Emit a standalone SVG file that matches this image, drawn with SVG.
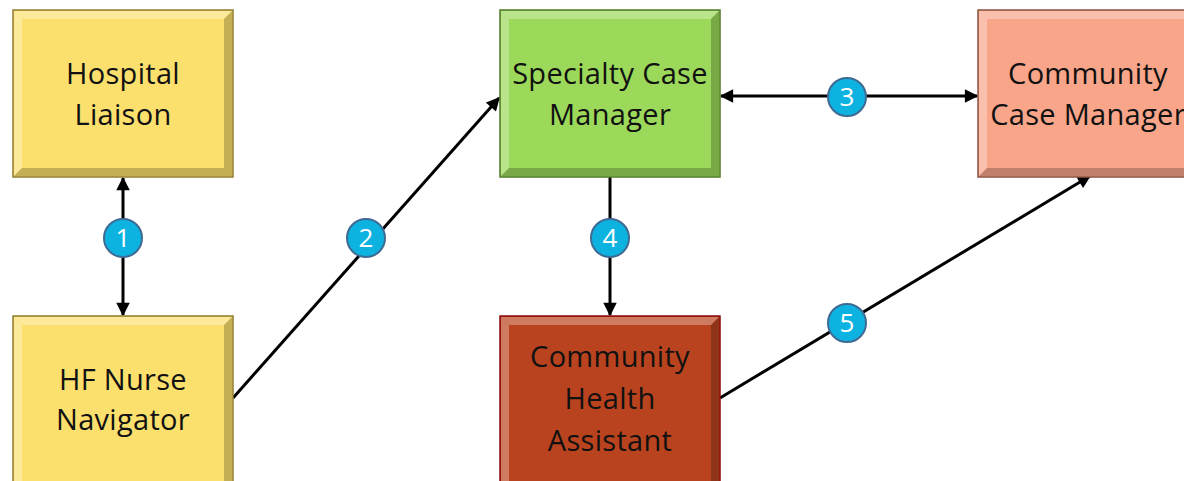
<svg xmlns="http://www.w3.org/2000/svg" width="1184" height="481" viewBox="0 0 1184 481">
<defs>
<style>
.lbl{font-family:"Open Sans","Liberation Sans",sans-serif;font-size:29px;fill:#111;text-anchor:middle;letter-spacing:0.3px}
.num{font-family:"Open Sans","Liberation Sans",sans-serif;font-size:26px;fill:#fff;text-anchor:middle}
.bl{fill:#fff;opacity:0.3}
.bd{fill:#000;opacity:0.22}
.badge{fill:#0DB3E0;stroke:#3E6A94;stroke-width:2}
.con{stroke:#000;stroke-width:3;fill:none}
</style>
<marker id="ah" viewBox="0 0 10 10" refX="9" refY="5" markerWidth="5" markerHeight="4.5" orient="auto-start-reverse" markerUnits="strokeWidth">
<path d="M0,0 L10,5 L0,10 z" fill="#000"/>
</marker>
</defs>
<rect width="1184" height="481" fill="#fff"/>

<g id="connectors">
<line class="con" x1="123" y1="178" x2="123" y2="315" marker-start="url(#ah)" marker-end="url(#ah)"/>
<line class="con" x1="233" y1="398" x2="499" y2="98" marker-end="url(#ah)"/>
<line class="con" x1="721" y1="96" x2="977" y2="96" marker-start="url(#ah)" marker-end="url(#ah)"/>
<line class="con" x1="610" y1="177" x2="610" y2="315" marker-end="url(#ah)"/>
<line class="con" x1="720" y1="398" x2="1090" y2="176" marker-end="url(#ah)"/>
<circle class="badge" cx="123" cy="238" r="19"/><text class="num" x="123" y="247">1</text>
<circle class="badge" cx="366" cy="238" r="19"/><text class="num" x="366" y="247">2</text>
<circle class="badge" cx="847" cy="97" r="19"/><text class="num" x="847" y="106">3</text>
<circle class="badge" cx="610" cy="238" r="19"/><text class="num" x="610" y="247">4</text>
<circle class="badge" cx="847" cy="323" r="19"/><text class="num" x="847" y="332">5</text>
</g>

<g id="hospital-liaison">
<rect x="13" y="10" width="220" height="167" fill="#FBE06E" stroke="#8F7A30" stroke-width="1.5"/>
<polygon class="bl" points="14,11 232,11 224,19 22,19"/>
<polygon class="bl" points="14,11 22,19 22,168 14,176" opacity="0.12"/>
<polygon class="bd" points="232,11 232,176 224,168 224,19"/>
<polygon class="bd" points="14,176 232,176 224,168 22,168"/>
<text class="lbl" x="123" y="84">Hospital</text>
<text class="lbl" x="123" y="125">Liaison</text>
</g>

<g id="hf-nurse-navigator">
<rect x="13" y="316" width="220" height="170" fill="#FBE06E" stroke="#8F7A30" stroke-width="1.5"/>
<polygon class="bl" points="14,317 232,317 224,325 22,325"/>
<polygon class="bl" points="14,317 22,325 22,481 14,481" opacity="0.12"/>
<polygon class="bd" points="232,317 232,481 224,481 224,325"/>
<text class="lbl" x="123" y="390">HF Nurse</text>
<text class="lbl" x="123" y="430">Navigator</text>
</g>

<g id="specialty-case-manager">
<rect x="500" y="10" width="220" height="167" fill="#9CD95A" stroke="#4F7A28" stroke-width="1.5"/>
<polygon class="bl" points="501,11 719,11 711,19 509,19"/>
<polygon class="bl" points="501,11 509,19 509,168 501,176" opacity="0.12"/>
<polygon class="bd" points="719,11 719,176 711,168 711,19"/>
<polygon class="bd" points="501,176 719,176 711,168 509,168"/>
<text class="lbl" x="610" y="84">Specialty Case</text>
<text class="lbl" x="610" y="125">Manager</text>
</g>

<g id="community-case-manager">
<rect x="978" y="10" width="220" height="167" fill="#F8A58A" stroke="#8A5040" stroke-width="1.5"/>
<polygon class="bl" points="979,11 1197,11 1189,19 987,19"/>
<polygon class="bl" points="979,11 987,19 987,168 979,176" opacity="0.12"/>
<polygon class="bd" points="979,176 1197,176 1189,168 987,168"/>
<text class="lbl" x="1088" y="84">Community</text>
<text class="lbl" x="1088" y="125">Case Manager</text>
</g>

<g id="community-health-assistant">
<rect x="500" y="316" width="220" height="170" fill="#B9431E" stroke="#8A0A0A" stroke-width="1.5"/>
<polygon class="bl" points="501,317 719,317 711,325 509,325"/>
<polygon class="bl" points="501,317 509,325 509,481 501,481" opacity="0.12"/>
<polygon class="bd" points="719,317 719,481 711,481 711,325"/>
<text class="lbl" x="610" y="367">Community</text>
<text class="lbl" x="610" y="409">Health</text>
<text class="lbl" x="610" y="451">Assistant</text>
</g>
</svg>
